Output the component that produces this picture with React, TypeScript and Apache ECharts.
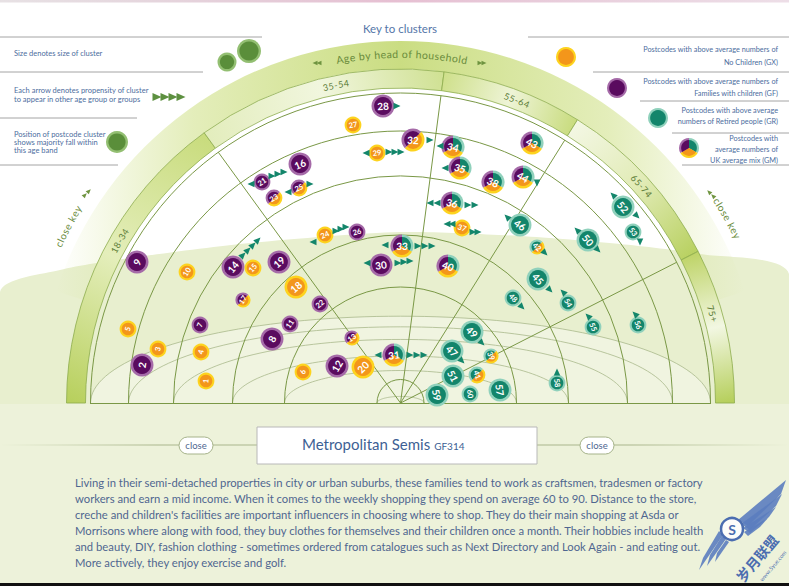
import React, { useEffect, useRef } from "react";
import * as echarts from "echarts";

const W = 789;
const H = 586;
const CX = 400.5;
const CY = 403;
const FONT = "Lato, 'Open Sans', sans-serif";
const DEG = Math.PI / 180;

// ---------- postcode clusters ----------
const clusterIds = [1,2,3,4,5,6,7,8,9,10,11,12,13,14,15,16,17,18,19,20,21,22,23,24,25,26,27,28,29,30,31,32,33,34,35,36,37,38,39,40,41,42,43,44,45,46,47,48,49,50,51,52,53,54,55,56,57,58,59,60];
const clusterX = [206,142,158,201,128,303,200,272,137,187,290,337,352,233,253,300,243,296,279,363,262,320,274,325,299,357,353,383,377,381,394,413,402,453,460,452,462,493,491,448,477,537,532,523,538,520,452,513,472,588,453,623,633,568,593,638,500,557,437,470];
const clusterY = [381,365,349,352,329,372,325,339,262,272,324,366,338,267,268,164,300,287,262,367,182,304,198,235,188,232,125,106,153,265,355,140,246,147,168,203,228,182,356,266,375,247,143,177,279,225,351,298,332,240,376,207,232,303,327,325,390,383,395,394];
// 1 = small, 2 = medium, 3 = large cluster
const clusterSize = [2,3,2,2,2,2,2,3,3,2,2,3,1,3,2,3,1,3,3,3,2,2,2,2,2,2,2,3,2,3,3,3,3,3,3,3,2,3,1,3,2,1,3,3,3,3,3,2,3,3,3,3,2,2,2,2,3,2,3,2];
const clusterType = ["GX","GF","GX","GX","GX","GX","GF","GF","GF","GX","GF","GF","GMpo","GF","GX","GF","GMpo","GX","GF","GX","GF","GF","GMpo","GX","GMpo","GF","GX","GF","GX","GF","GM","GMpo","GM","GM","GM","GM","GX","GM","GMto","GM","GMto","GMto","GM","GM","GR","GR","GR","GR","GR","GR","GR","GR","GR","GR","GR","GR","GR","GR","GR","GR"];

// ---------- propensity arrows (direction in degrees) ----------
const arrowX = [397, 366,389,395,401, 251,272,278,284, 288,310, 313,336,341,346, 243,248,253,258, 367,398,404,410, 385,418,425,432, 378,410,417,424, 430, 440, 445, 430,437,468,475, 447,452,473,478, 537, 507, 613,637, 640, 577,598, 545, 550, 522, 563, 588, 635, 557, 482, 462];
const arrowY = [106, 153,152,152,152, 184,176,174,172, 192,184, 242,231,229,227, 255,250,245,240, 263,263,262,261, 245,246,246,246, 355,355,355,355, 140, 146, 168, 203,203,205,205, 224,224,232,232, 183, 217, 195,216, 242, 230,250, 253, 290, 307, 292, 316, 314, 372, 343, 361];
const arrowRot = [-90, 90,-90,-90,-90, 90,-90,-90,-90, 90,-90, 90,-90,-90,-90, -45,-45,-45,-45, 90,-90,-90,-90, 90,-90,-90,-90, 90,-90,-90,-90, -90, 90, 90, 90,90,-90,-90, 90,90,-90,-90, 180, 45, 45,-135, 180, 45,-135, -135, -135, -135, 45, 45, 45, 0, -135, -135];

const legendArrowX = [157, 165, 173, 181];
const legendArrowY = [97, 97, 97, 97];
const smallArrowX = [315, 319, 480, 484, 85, 89, 709, 713];
const smallArrowY = [63, 63, 63, 63, 195, 191, 192, 196];
const smallArrowRot = [90, 90, -90, -90, -45, -45, 45, 45];

// ---------- age bands ----------
const ageBands = ["18-34", "35-54", "55-64", "65-74", "75+"];
const ageBandEdges = [180, 126, 82.5, 58, 27, 0];
const ageLabelAngles = [150, 101.5, 69, 42, 16];
const ringRadii = [23.5, 116, 168, 227, 272, 310];
const dividerAngles = [126, 82.5, 58, 27];

// ---------- key texts ----------
const keyLeft: [string, number][] = [
  ["Size denotes size of cluster", 53],
  ["Each arrow denotes propensity of cluster", 90],
  ["to appear in other age group or groups", 99],
  ["Position of postcode cluster", 134],
  ["shows majority fall within", 142],
  ["this age band", 150],
];
const keyRight: [string, number][] = [
  ["Postcodes with above average numbers of", 49],
  ["No Children (GX)", 62],
  ["Postcodes with above average numbers of", 81],
  ["Families with children (GF)", 93],
  ["Postcodes with above average", 110],
  ["numbers of Retired people (GR)", 121],
  ["Postcodes with", 138],
  ["average numbers of", 149],
  ["UK average mix (GM)", 160],
];
const keyRightSymbols: [string, number, number][] = [
  ["GX", 566, 57],
  ["GF", 617, 88],
  ["GR", 658, 118],
  ["GM", 689, 148],
];
const paragraph = [
  "Living in their semi-detached properties in city or urban suburbs, these families tend to work as craftsmen, tradesmen or factory",
  "workers and earn a mid income. When it comes to the weekly shopping they spend on average 60 to 90. Distance to the store,",
  "creche and children's facilities are important influencers in choosing where to shop. They do their main shopping at Asda or",
  "Morrisons where along with food, they buy clothes for themselves and their children once a month. Their hobbies include health",
  "and beauty, DIY, fashion clothing - sometimes ordered from catalogues such as Next Directory and Look Again - and eating out.",
  "More actively, they enjoy exercise and golf.",
];

const COLORS: Record<string, { ring: string; core: string }> = {
  GF: { ring: "#a56aa8", core: "#5a0b5f" },
  GX: { ring: "#fdd31e", core: "#f3961b" },
  GR: { ring: "#90d1bc", core: "#13856b" },
};

let _ctx: CanvasRenderingContext2D | null = null;
function textWidth(s: string, size: number, weight = "normal") {
  if (!_ctx) _ctx = document.createElement("canvas").getContext("2d");
  if (!_ctx) return s.length * size * 0.5;
  _ctx.font = `${weight} ${size}px Lato`;
  return _ctx.measureText(s).width;
}

function bubbleChildren(x: number, y: number, r: number, type: string, label: string | null, fontSize: number, rot: number) {
  const inner = r - (r > 10 ? 2.6 : 2.1);
  const ch: any[] = [];
  const P = COLORS.GF, O = COLORS.GX, T = COLORS.GR;
  const sectors = (parts: [{ ring: string; core: string }, number, number][]) => {
    parts.forEach(([c, a0, a1]) =>
      ch.push({ type: "sector", shape: { cx: x, cy: y, r, r0: 0, startAngle: a0 * DEG, endAngle: a1 * DEG, clockwise: true }, style: { fill: c.ring } })
    );
    parts.forEach(([c, a0, a1]) =>
      ch.push({ type: "sector", shape: { cx: x, cy: y, r: inner, r0: 0, startAngle: a0 * DEG, endAngle: a1 * DEG, clockwise: true }, style: { fill: c.core } })
    );
  };
  if (type === "GM") sectors([[T, -90, 30], [O, 30, 150], [P, 150, 270]]);
  else if (type === "GMpo") sectors([[O, -45, 135], [P, 135, 315]]);
  else if (type === "GMto") sectors([[O, -45, 135], [T, 135, 315]]);
  else {
    const c = COLORS[type];
    ch.push({ type: "circle", shape: { cx: x, cy: y, r }, style: { fill: c.ring } });
    ch.push({ type: "circle", shape: { cx: x, cy: y, r: inner }, style: { fill: c.core } });
  }
  if (label) {
    ch.push({
      type: "text", x, y, rotation: rot,
      style: { text: label, fill: "#ffffff", fontSize, fontWeight: "bold", fontFamily: FONT, align: "center", verticalAlign: "middle" },
    });
  }
  return ch;
}

function arcText(str: string, r: number, centerDeg: number, size: number, color: string, z: number, spacing = 0.4) {
  const chars = Array.from(str);
  const ws = chars.map((c) => textWidth(c, size) + spacing);
  const total = ws.reduce((a, b) => a + b, 0);
  let acc = 0;
  return chars.map((c, i) => {
    const off = acc + ws[i] / 2 - total / 2;
    acc += ws[i];
    const t = centerDeg * DEG - off / r;
    return {
      type: "text", x: CX + r * Math.cos(t), y: CY - r * Math.sin(t), rotation: t - Math.PI / 2, z,
      style: { text: c, fill: color, fontSize: size, fontFamily: FONT, align: "center", verticalAlign: "middle" },
    };
  });
}

function buildGraphics() {
  const g: any[] = [];
  g.push({ type: "rect", z: 0, shape: { x: 0, y: 0, width: W, height: H }, style: { fill: "#ffffff" } });
  g.push({
    type: "rect", z: 1, shape: { x: 0, y: 0, width: W, height: 2.5 },
    style: { fill: new echarts.graphic.LinearGradient(0, 0, 1, 0, [
      { offset: 0, color: "rgba(215,205,210,0.6)" }, { offset: 0.5, color: "#e6bfd2" }, { offset: 1, color: "rgba(225,200,215,0.6)" }]) },
  });
  // pale green wave background
  g.push({
    type: "polygon", z: 1,
    shape: { points: [[0, 292], [60, 270], [130, 258], [250, 243], [400, 232], [520, 236], [620, 244], [700, 254], [789, 274], [789, 586], [0, 586]], smooth: 0.25 },
    style: { fill: "#e8efcf" },
  });
  g.push({ type: "rect", z: 2, shape: { x: 0, y: 404, width: W, height: 182 }, style: { fill: "#edf2da" } });
  // lighter floor ellipse
  const bigPts: number[][] = [];
  for (let k = 0; k <= 80; k++) {
    const t = (Math.PI * k) / 80;
    bigPts.push([CX - 310 * Math.cos(t), CY - 310 * 0.28 * Math.sin(t)]);
  }
  g.push({ type: "polygon", z: 2, shape: { points: bigPts }, style: { fill: "rgba(255,255,255,0.35)" } });

  // outer "age by head of household" band
  g.push({
    type: "sector", z: 3,
    shape: { cx: CX, cy: CY, r: 362, r0: 334, startAngle: -162 * DEG, endAngle: -18 * DEG, clockwise: true },
    style: { fill: new echarts.graphic.LinearGradient(0, 0, 1, 0, [
      { offset: 0, color: "rgba(205,223,130,0)" }, { offset: 0.2, color: "rgba(205,223,130,0.55)" },
      { offset: 0.5, color: "#cadd82" }, { offset: 0.8, color: "rgba(205,223,130,0.55)" }, { offset: 1, color: "rgba(205,223,130,0)" }]) },
  });
  // age band segments
  const segStops = [
    ["#b8d05e", "#e4eebb", "#c9dc7e"],
    ["#e3edbd", "#f1f6de", "#d0e194"],
    ["#cfe08c", "#eef4d6", "#c9dc80"],
    ["#f3f7e3", "#e1ebb6", "#b9d162"],
    ["#bfd469", "#f2f7e2", "#b6cf5c"],
  ];
  for (let i = 0; i < 5; i++) {
    const a0 = ageBandEdges[i], a1 = ageBandEdges[i + 1];
    const rm = 324.5;
    const x1 = CX + rm * Math.cos(a0 * DEG), y1 = CY - rm * Math.sin(a0 * DEG);
    const x2 = CX + rm * Math.cos(a1 * DEG), y2 = CY - rm * Math.sin(a1 * DEG);
    g.push({
      type: "sector", z: 5,
      shape: { cx: CX, cy: CY, r: 334, r0: 315, startAngle: -a0 * DEG, endAngle: -a1 * DEG, clockwise: true },
      style: {
        fill: new echarts.graphic.LinearGradient(x1, y1, x2, y2, [
          { offset: 0, color: segStops[i][0] }, { offset: 0.5, color: segStops[i][1] }, { offset: 1, color: segStops[i][2] }], true),
        stroke: "#8dac4c", lineWidth: 0.8,
      },
    });
    g.push(...arcText(ageBands[i], 324.5, ageLabelAngles[i], 9, "#5b7b36", 6, 0.6));
  }
  g.push(...arcText("Age by head of household", 349, 89.8, 10.5, "#6a8c3c", 6, 0.5));
  g.push(...arcText("close key", 377, 152, 10, "#6a8c3c", 6, 0.6));
  g.push(...arcText("close key", 376, 29.5, 10, "#6a8c3c", 6, 0.6));

  // perspective ellipses
  ringRadii.forEach((R) => {
    const pts: number[][] = [];
    for (let k = 0; k <= 80; k++) {
      const t = (Math.PI * k) / 80;
      pts.push([CX - R * Math.cos(t), CY - R * 0.28 * Math.sin(t)]);
    }
    g.push({ type: "polyline", z: 6, shape: { points: pts }, style: { stroke: "#a9b98c", lineWidth: 0.8, fill: null } });
  });
  // concentric arcs
  ringRadii.forEach((R) => {
    g.push({
      type: "arc", z: 7,
      shape: { cx: CX, cy: CY, r: R, startAngle: Math.PI, endAngle: 2 * Math.PI, clockwise: true },
      style: { stroke: "#7a9846", lineWidth: 1, fill: null },
    });
  });
  dividerAngles.forEach((a) => {
    g.push({
      type: "line", z: 7,
      shape: { x1: CX, y1: CY, x2: CX + 310 * Math.cos(a * DEG), y2: CY - 310 * Math.sin(a * DEG) },
      style: { stroke: "#7a9846", lineWidth: 1 },
    });
  });
  g.push({ type: "line", z: 7, shape: { x1: 90, y1: 403.5, x2: 711, y2: 403.5 }, style: { stroke: "#7a9846", lineWidth: 1.2 } });

  // key title and lines
  g.push({ type: "text", z: 8, x: 400, y: 28, style: { text: "Key to clusters", fill: "#5476a8", fontSize: 11.5, fontFamily: FONT, align: "center", verticalAlign: "middle" } });
  const leftLines = [[37, 262], [72, 203], [118, 137], [165, 118]];
  leftLines.forEach(([y, x2]) =>
    g.push({ type: "line", z: 8, shape: { x1: 0, y1: y, x2, y2: y }, style: { stroke: "#a4a4a4", lineWidth: 1 } })
  );
  const rightLines = [[37, 528], [72, 593], [101, 640], [133, 672], [165, 682]];
  rightLines.forEach(([y, x1]) =>
    g.push({ type: "line", z: 8, shape: { x1, y1: y, x2: W, y2: y }, style: { stroke: "#a4a4a4", lineWidth: 1 } })
  );
  keyLeft.forEach(([t, y]) =>
    g.push({ type: "text", z: 8, x: 14, y, style: { text: t, fill: "#4c6d9e", fontSize: 7.5, fontFamily: FONT, align: "left", verticalAlign: "middle" } })
  );
  keyRight.forEach(([t, y]) =>
    g.push({ type: "text", z: 8, x: 778, y, style: { text: t, fill: "#4c6d9e", fontSize: 7.3, fontFamily: FONT, align: "right", verticalAlign: "middle" } })
  );
  keyRightSymbols.forEach(([type, x, y]) =>
    g.push({ type: "group", z: 8, children: bubbleChildren(x, y, 10, type, null, 8, 0) })
  );
  const greenDots = [[227, 62, 9.5], [249, 51, 12], [117, 142, 11]];
  greenDots.forEach(([x, y, r]) => {
    g.push({ type: "circle", z: 8, shape: { cx: x, cy: y, r }, style: { fill: "#93bf72" } });
    g.push({ type: "circle", z: 8, shape: { cx: x, cy: y, r: r - 2.4 }, style: { fill: "#5a8e3a" } });
  });

  // bottom detail box
  g.push({
    type: "line", z: 20, shape: { x1: 0, y1: 445, x2: W, y2: 445 },
    style: { stroke: new echarts.graphic.LinearGradient(0, 445, W, 445, [
      { offset: 0, color: "rgba(170,185,140,0)" }, { offset: 0.2, color: "#aab68c" }, { offset: 0.8, color: "#aab68c" }, { offset: 1, color: "rgba(170,185,140,0)" }], true), lineWidth: 1.2 },
  });
  [179, 580].forEach((x) => {
    g.push({ type: "rect", z: 21, shape: { x, y: 437, width: 34, height: 17, r: 8.5 }, style: { fill: "#ffffff", stroke: "#a6b38a", lineWidth: 1 } });
    g.push({ type: "text", z: 22, x: x + 17, y: 445.5, style: { text: "close", fill: "#4f6690", fontSize: 9.5, fontFamily: FONT, align: "center", verticalAlign: "middle" } });
  });
  g.push({ type: "rect", z: 21, shape: { x: 257, y: 427, width: 280, height: 37 }, style: { fill: "#ffffff", stroke: "#b8b8b8", lineWidth: 1 } });
  g.push({ type: "group", z: 22, children: bubbleChildren(281, 444, 10, "GF", "14", 10, 0) });
  const title = "Metropolitan Semis";
  g.push({ type: "text", z: 22, x: 302, y: 444, style: { text: title, fill: "#3d5f94", fontSize: 15, fontFamily: FONT, align: "left", verticalAlign: "middle" } });
  g.push({ type: "text", z: 22, x: 302 + textWidth(title, 15) + 4, y: 445.5, style: { text: "GF314", fill: "#3d5f94", fontSize: 10, fontFamily: FONT, align: "left", verticalAlign: "middle" } });
  paragraph.forEach((t, i) =>
    g.push({ type: "text", z: 22, x: 75, y: 482 + i * 16, style: { text: t, fill: "#4f6690", fontSize: 11.25, fontFamily: FONT, align: "left", verticalAlign: "middle" } })
  );

  // watermark: winged "S" badge
  const feathersUp = [
    [[738, 520], [786, 480], [781, 494], [748, 526]],
    [[741, 524], [782, 494], [776, 506], [750, 530]],
    [[743, 528], [776, 507], [769, 517], [750, 533]],
    [[744, 532], [768, 518], [760, 527], [748, 536]],
  ];
  const feathersDown = [
    [[723, 535], [699, 570], [703, 558], [719, 531]],
    [[726, 539], [707, 566], [710, 555], [722, 536]],
    [[729, 542], [715, 562], [717, 553], [726, 540]],
  ];
  [...feathersUp, ...feathersDown].forEach((pts) =>
    g.push({ type: "polygon", z: 30, shape: { points: pts }, style: { fill: "#5b7dbf", opacity: 0.9 } })
  );
  g.push({ type: "circle", z: 31, shape: { cx: 732, cy: 529, r: 11 }, style: { fill: "rgba(255,255,255,0.85)", stroke: "#4b6db0", lineWidth: 2.5 } });
  g.push({ type: "text", z: 32, x: 732, y: 529, style: { text: "S", fill: "#4b6db0", fontSize: 14, fontWeight: "bold", fontFamily: FONT, align: "center", verticalAlign: "middle" } });
  g.push({ type: "text", z: 32, x: 757, y: 558, rotation: 50 * DEG, style: { text: "岁月联盟", fill: "#4b6db0", fontSize: 14, fontWeight: "bold", fontFamily: "'Noto Sans CJK SC'", align: "center", verticalAlign: "middle" } });
  g.push({ type: "text", z: 32, x: 773, y: 566, rotation: 50 * DEG, style: { text: "www.5yue.com", fill: "#4b6db0", fontSize: 5.5, fontFamily: FONT, align: "center", verticalAlign: "middle" } });
  g.push({ type: "rect", z: 33, shape: { x: 0, y: 583, width: W, height: 3 }, style: { fill: "#111111" } });
  return g;
}

export default function App() {
  const ref = useRef<HTMLDivElement>(null);
  useEffect(() => {
    document.body.style.margin = "0";
    if (!ref.current) return;
    const chart = echarts.init(ref.current, undefined, { renderer: "svg" });
    const option: any = {
      animation: false,
      grid: { left: 0, right: 0, top: 0, bottom: 0 },
      xAxis: { type: "value", min: 0, max: W, show: false },
      yAxis: { type: "value", min: 0, max: H, inverse: true, show: false },
      graphic: { elements: buildGraphics() },
      series: [
        {
          type: "custom",
          name: "clusters",
          coordinateSystem: "cartesian2d",
          z: 50,
          silent: true,
          data: clusterIds.map((id, i) => [clusterX[i], clusterY[i], clusterSize[i], id]),
          renderItem: (params: any, api: any) => {
            const i = params.dataIndex;
            const p = api.coord([api.value(0), api.value(1)]);
            const c = api.coord([CX, CY]);
            const s = api.value(2);
            const r = s === 3 ? 11.5 : s === 2 ? 8.4 : 7.6;
            const th = Math.atan2(c[1] - p[1], p[0] - c[0]);
            return {
              type: "group",
              children: bubbleChildren(p[0], p[1], r, clusterType[i], String(clusterIds[i]), s === 3 ? 10 : 7.5, th - Math.PI / 2),
            };
          },
        },
        {
          type: "scatter",
          name: "propensity",
          z: 51,
          silent: true,
          symbol: "triangle",
          symbolSize: [6.5, 7],
          itemStyle: { color: "#13866b", opacity: 1 },
          data: arrowX.map((x, i) => ({ value: [x, arrowY[i]], symbolRotate: arrowRot[i] })),
        },
        {
          type: "scatter",
          name: "legendArrows",
          z: 51,
          silent: true,
          symbol: "triangle",
          symbolSize: [8, 9],
          symbolRotate: -90,
          itemStyle: { color: "#5d9040", opacity: 1 },
          data: legendArrowX.map((x, i) => [x, legendArrowY[i]]),
        },
        {
          type: "scatter",
          name: "smallArrows",
          z: 51,
          silent: true,
          symbol: "triangle",
          symbolSize: [4.5, 5],
          itemStyle: { color: "#6f9440", opacity: 1 },
          data: smallArrowX.map((x, i) => ({ value: [x, smallArrowY[i]], symbolRotate: smallArrowRot[i] })),
        },
      ],
    };
    chart.setOption(option);
    return () => chart.dispose();
  }, []);
  return <div ref={ref} style={{ width: W, height: H }} />;
}
